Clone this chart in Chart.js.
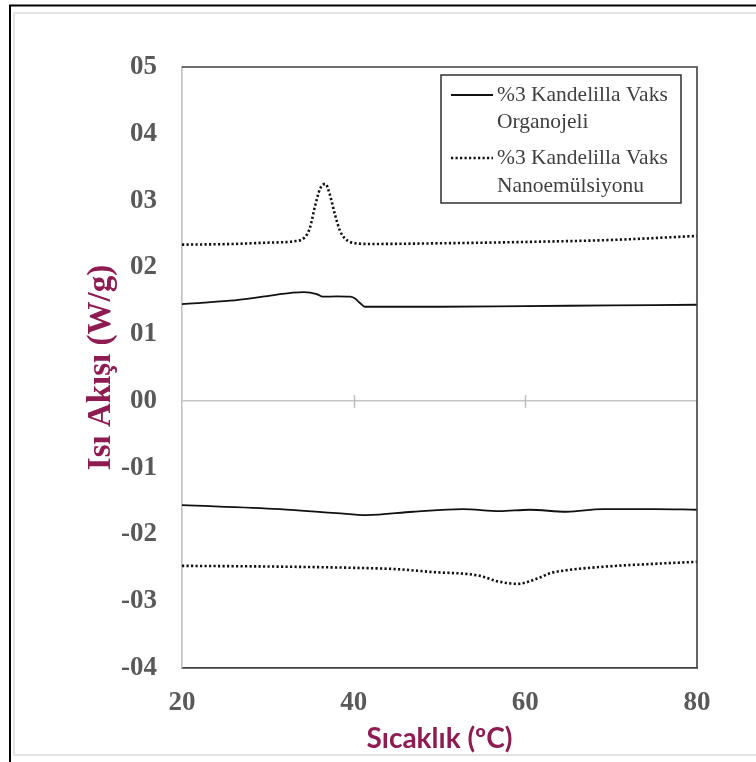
<!DOCTYPE html>
<html><head><meta charset="utf-8">
<script src="https://cdn.jsdelivr.net/npm/chart.js@4/dist/chart.umd.min.js"></script>
<style>html,body{margin:0;padding:0;background:#fff;overflow:hidden}</style>
</head><body>
<canvas id="c" width="756" height="762"></canvas>
<script>
// ---- data ----
const seriesNames = [['%3 Kandelilla Vaks', 'Organojeli'], ['%3 Kandelilla Vaks', 'Nanoemülsiyonu']];
const yTickLabels = ['-04', '-03', '-02', '-01', '00', '01', '02', '03', '04', '05'];
const xTickLabels = ['20', '40', '60', '80'];
const xTitle = 'Sıcaklık (ºC)';
const yTitle = 'Isı Akışı (W/g)';

// Organojeli (solid) - heating curve
const organoHeatT = [20, 25.6, 29.4, 32.9, 34.2, 35.7, 36.4, 38, 39.6, 40.2, 40.7, 41.3, 43, 50, 60, 70, 80];
const organoHeatV = [0.145, 0.150, 0.156, 0.162, 0.163, 0.160, 0.156, 0.1565, 0.156, 0.153, 0.147, 0.141, 0.141, 0.141, 0.142, 0.143, 0.144];
// Organojeli (solid) - cooling curve
const organoCoolT = [20, 31.4, 38, 41.5, 46.9, 52.7, 57, 60.5, 64.8, 69, 75, 80];
const organoCoolV = [-0.156, -0.162, -0.168, -0.171, -0.166, -0.162, -0.165, -0.163, -0.166, -0.162, -0.162, -0.163];
// Nanoemülsiyonu (dotted) - heating curve
const nanoHeatT = [20, 26, 30, 33, 34.3, 34.9, 35.5, 36.1, 36.7, 37.2, 37.8, 38.4, 39.0, 40.2, 42, 50, 60, 70, 80];
const nanoHeatV = [0.234, 0.235, 0.237, 0.239, 0.245, 0.259, 0.292, 0.318, 0.325, 0.310, 0.280, 0.255, 0.243, 0.236, 0.235, 0.236, 0.238, 0.241, 0.247];
// Nanoemülsiyonu (dotted) - cooling curve
const nanoCoolT = [20, 30, 40, 45, 48.9, 54.7, 56.7, 59.1, 61.4, 62.9, 65.2, 69.5, 75, 80];
const nanoCoolV = [-0.247, -0.248, -0.250, -0.252, -0.256, -0.262, -0.270, -0.274, -0.266, -0.258, -0.253, -0.248, -0.244, -0.241];

const pts = (T, V) => T.map((t, i) => ({x: t, y: V[i]}));
const DOT = [2.2, 2.3];

const solid = {borderColor: '#111', borderWidth: 1.8, pointRadius: 0, fill: false, cubicInterpolationMode: 'monotone'};
const dotted = {borderColor: '#111', borderWidth: 2.6, borderDash: DOT, pointRadius: 0, fill: false, cubicInterpolationMode: 'monotone'};

const frame = {
  id: 'frame',
  beforeDraw(chart) {
    const c = chart.ctx;
    c.save();
    c.fillStyle = '#fff';
    c.fillRect(0, 0, chart.width, chart.height);
    c.strokeStyle = '#e3e3e3';
    c.lineWidth = 2;
    c.strokeRect(14, 13, 760, 742);
    c.strokeStyle = '#000';
    c.lineWidth = 2;
    c.beginPath();
    c.moveTo(10, 770); c.lineTo(10, 5.5); c.lineTo(770, 5.5);
    c.stroke();
    c.restore();
  },
  afterDatasetsDraw(chart) {
    const c = chart.ctx, a = chart.chartArea;
    const xs = chart.scales.x, ys = chart.scales.y;
    c.save();
    // zero line tick marks
    const y0 = ys.getPixelForValue(0);
    c.strokeStyle = '#bfbfbf';
    c.lineWidth = 1.5;
    [40, 60].forEach(v => {
      const px = Math.round(xs.getPixelForValue(v)) + 0.5;
      c.beginPath(); c.moveTo(px, y0 - 6); c.lineTo(px, y0 + 7); c.stroke();
    });
    // top & right frame
    c.strokeStyle = '#404040';
    c.lineWidth = 1.6;
    c.beginPath();
    c.moveTo(a.left, a.top); c.lineTo(a.right, a.top); c.lineTo(a.right, a.bottom);
    c.stroke();
    // legend
    const L = 441, T = 75, R = 681, B = 203;
    c.fillStyle = '#fff';
    c.fillRect(L, T, R - L, B - T);
    c.strokeStyle = '#222';
    c.lineWidth = 1.4;
    c.strokeRect(L, T, R - L, B - T);
    c.font = '21.5px "Liberation Serif"';
    c.fillStyle = '#404040';
    c.textBaseline = 'middle';
    const rows = [[95, 122], [158, 186]];
    chart.data.datasets.filter(d => !d.hideInLegend).forEach((d, i) => {
      const [y1, y2] = rows[i];
      c.strokeStyle = '#111';
      c.lineWidth = d.borderWidth;
      c.setLineDash(d.borderDash || []);
      c.beginPath(); c.moveTo(451, y1); c.lineTo(493, y1); c.stroke();
      c.setLineDash([]);
      c.fillText(d.label[0], 497, y1);
      c.fillText(d.label[1], 497, y2);
    });
    c.restore();
  }
};

new Chart(document.getElementById('c'), {
  type: 'line',
  data: {
    datasets: [
      Object.assign({label: seriesNames[0], data: pts(organoHeatT, organoHeatV)}, solid),
      Object.assign({label: seriesNames[1], data: pts(nanoHeatT, nanoHeatV)}, dotted),
      Object.assign({label: seriesNames[0], data: pts(organoCoolT, organoCoolV), hideInLegend: true}, solid),
      Object.assign({label: seriesNames[1], data: pts(nanoCoolT, nanoCoolV), hideInLegend: true}, dotted)
    ]
  },
  options: {
    responsive: false,
    animation: false,
    devicePixelRatio: 1,
    layout: {padding: {left: 0, top: 67, right: 59, bottom: 0}},
    plugins: {legend: {display: false}, tooltip: {enabled: false}},
    scales: {
      x: {
        type: 'linear', min: 20, max: 80,
        afterFit: s => { s.height = 94; },
        ticks: {
          stepSize: 20,
          padding: 19,
          color: '#595959',
          font: {family: '"Liberation Serif"', size: 27, weight: 'bold'},
          callback: v => xTickLabels[Math.round((v - 20) / 20)] ?? ''
        },
        grid: {display: true, drawOnChartArea: false, drawTicks: false},
        border: {color: '#404040', width: 1.8},
        title: {display: true, text: xTitle, color: '#8e1b52',
          font: {family: 'Lato', size: 28, weight: 'bold'}, padding: {top: 0, bottom: 6}}
      },
      y: {
        type: 'linear', min: -0.4, max: 0.5,
        afterFit: s => { s.width = 182; },
        ticks: {
          stepSize: 0.1,
          padding: 25,
          color: '#595959',
          font: {family: '"Liberation Serif"', size: 27, weight: 'bold'},
          callback: v => yTickLabels[Math.round(v * 10) + 4] ?? ''
        },
        grid: {drawOnChartArea: true, drawTicks: false, lineWidth: 1.6,
          color: ctx => (ctx.tick && Math.abs(ctx.tick.value) < 1e-9) ? '#c4c4c4' : 'rgba(0,0,0,0)'},
        border: {color: '#bfbfbf', width: 1.6},
        title: {display: true, text: yTitle, color: '#8e1b52',
          font: {family: '"Liberation Serif"', size: 33, weight: 'bold'}, padding: {top: 82, bottom: 0}}
      }
    }
  },
  plugins: [frame]
});
</script>
</body></html>
